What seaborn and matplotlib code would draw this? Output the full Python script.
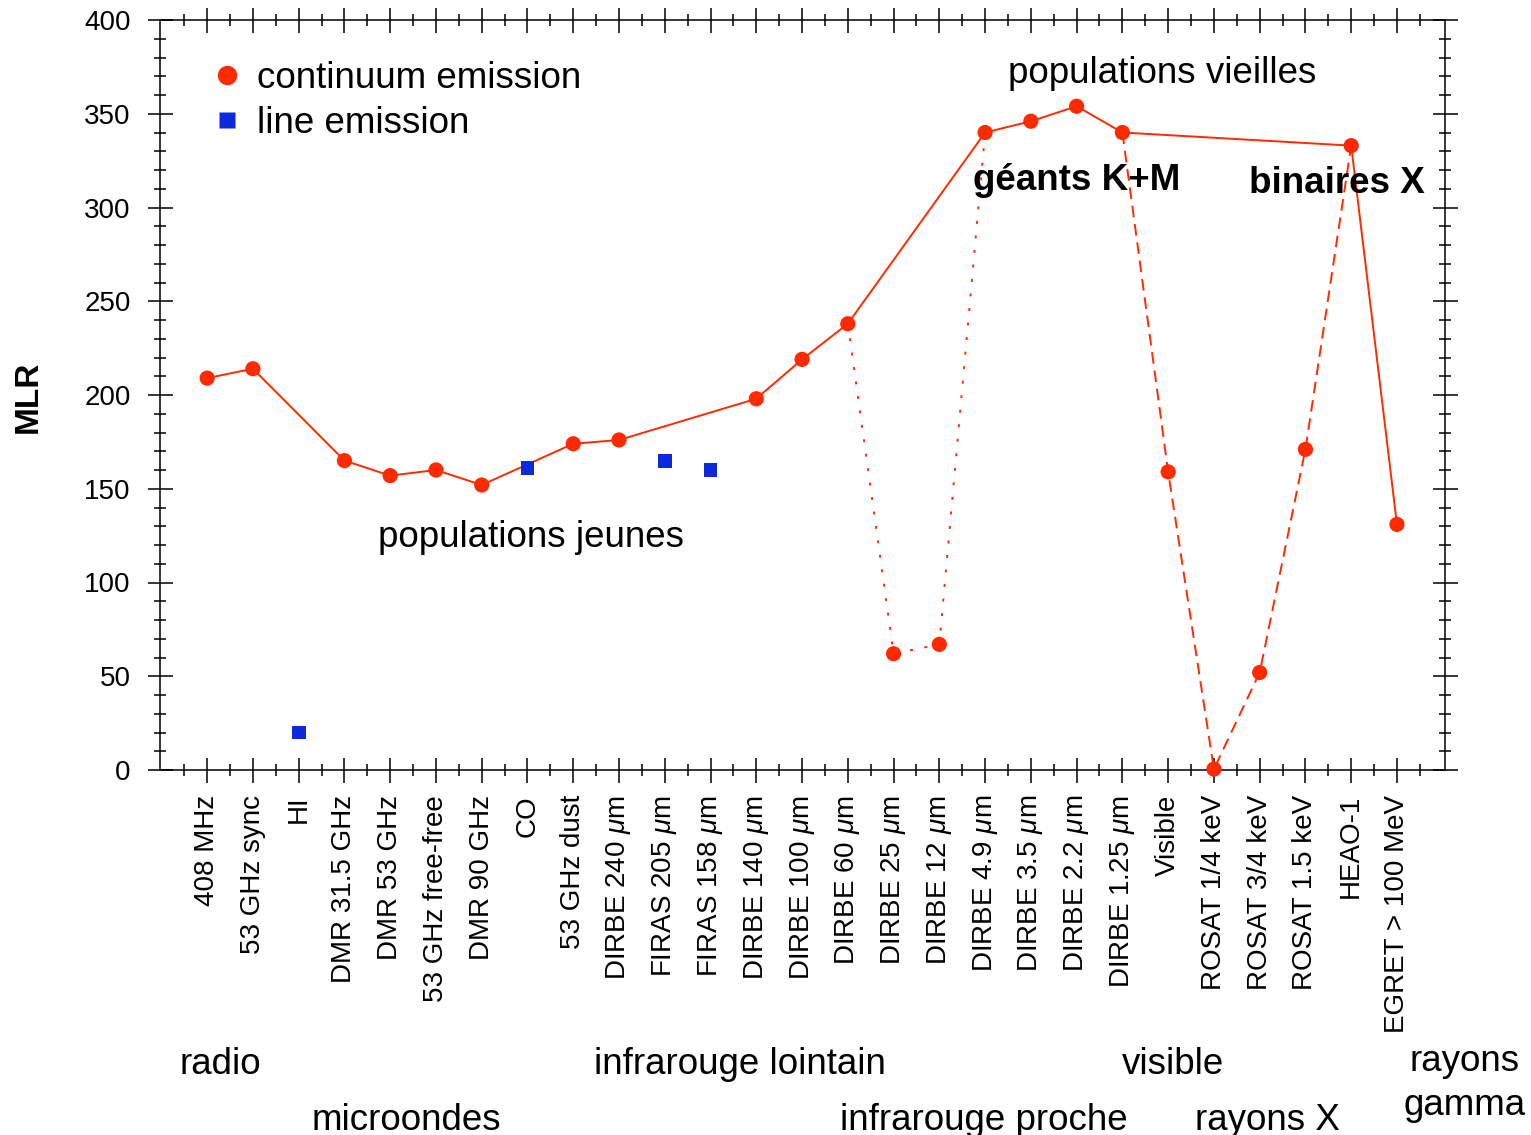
import matplotlib
matplotlib.use("Agg")
import matplotlib.pyplot as plt
import seaborn as sns
import pandas as pd
import numpy as np
from matplotlib.ticker import MultipleLocator, FixedLocator
from matplotlib.lines import Line2D

# ---------------- data ----------------
categories = ["408 MHz", "53 GHz sync", "HI", "DMR 31.5 GHz", "DMR 53 GHz",
              "53 GHz free-free", "DMR 90 GHz", "CO", "53 GHz dust",
              "DIRBE 240 $\\mu$m", "FIRAS 205 $\\mu$m", "FIRAS 158 $\\mu$m",
              "DIRBE 140 $\\mu$m", "DIRBE 100 $\\mu$m", "DIRBE 60 $\\mu$m",
              "DIRBE 25 $\\mu$m", "DIRBE 12 $\\mu$m", "DIRBE 4.9 $\\mu$m",
              "DIRBE 3.5 $\\mu$m", "DIRBE 2.2 $\\mu$m", "DIRBE 1.25 $\\mu$m",
              "Visible", "ROSAT 1/4 keV", "ROSAT 3/4 keV", "ROSAT 1.5 keV",
              "HEAO-1", "EGRET > 100 MeV"]
nan = np.nan
continuum = [209, 214, nan, 165, 157, 160, 152, nan, 174, 176, nan, nan,
             198, 219, 238, 62, 67, 340, 346, 354, 340, 159, 0.5, 52, 171,
             333, 131]
line_emission = [nan, nan, 20, nan, nan, nan, nan, 161, nan, nan, 165, 160,
                 nan, nan, nan, nan, nan, nan, nan, nan, nan, nan, nan, nan,
                 nan, nan, nan]
solid_idx = [0, 1, 3, 4, 5, 6, 8, 9, 12, 13, 14, 17, 18, 19, 20, 25, 26]
dotted_idx = [14, 15, 16, 17]
dashed_idx = [20, 21, 22, 23, 24, 25]
yticks = [0, 50, 100, 150, 200, 250, 300, 350, 400]

RED = "#ff2a00"
BLUE = "#0a2adc"

sns.set_style("ticks")
plt.rcParams['font.family'] = ['Liberation Sans', 'DejaVu Sans']
plt.rcParams['mathtext.fontset'] = 'custom'
plt.rcParams['mathtext.rm'] = 'Liberation Sans'
plt.rcParams['mathtext.it'] = 'Liberation Sans:italic'
plt.rcParams['text.color'] = 'black'
plt.rcParams['axes.labelcolor'] = 'black'
plt.rcParams['xtick.color'] = 'black'
plt.rcParams['ytick.color'] = 'black'

df = pd.DataFrame({"pos": np.arange(len(categories)),
                   "cont": continuum, "line": line_emission})

W, H = 1531, 1135
fig = plt.figure(figsize=(W / 100, H / 100), dpi=100)
ax = fig.add_axes([160 / W, 1 - 770 / H, (1445 - 160) / W, (770 - 20) / H])

# lines
sns.lineplot(data=df.iloc[solid_idx], x="pos", y="cont", sort=False,
             color=RED, linewidth=1.4, ax=ax, estimator=None)
sns.lineplot(data=df.iloc[dotted_idx], x="pos", y="cont", sort=False,
             color=RED, linewidth=1.4, linestyle=(0, (1.5, 6)), ax=ax,
             estimator=None)
sns.lineplot(data=df.iloc[dashed_idx], x="pos", y="cont", sort=False,
             color=RED, linewidth=1.4, linestyle=(0, (6, 3.5)), ax=ax,
             estimator=None)

# markers
sns.scatterplot(data=df, x="pos", y="cont", marker="o", s=120, color=RED,
                edgecolor="none", ax=ax, zorder=4, clip_on=False)
sns.scatterplot(data=df, x="pos", y="line", marker="s", s=100, color=BLUE,
                edgecolor="none", ax=ax, zorder=4, clip_on=False)

ax.set_xlim(-1.03, 27.05)
ax.set_ylim(0, 400)
ax.set_xticks(range(len(categories)))
ax.set_xticklabels(categories, rotation=90, fontsize=20)
ax.xaxis.set_minor_locator(FixedLocator(np.arange(-0.5, len(categories), 1)))
ax.set_yticks(yticks)
ax.set_yticklabels([str(v) for v in yticks], fontsize=20)
ax.yaxis.set_minor_locator(MultipleLocator(10))
ax.set_xlabel("")
ax.set_ylabel("MLR", fontsize=24, fontweight="bold")
ax.yaxis.set_label_coords((44 - 160) / 1285, 0.497)

ax.tick_params(which="major", direction="inout", length=18, width=1.1,
               top=True, right=True, color="black", labelcolor="black")
ax.tick_params(which="minor", direction="inout", length=9, width=1.1,
               top=True, right=True, color="black")
ax.tick_params(axis="x", which="major", pad=9)
ax.tick_params(axis="y", which="major", pad=12)
for sp in ax.spines.values():
    sp.set_visible(True)
    sp.set_linewidth(1.1)
    sp.set_color("black")

# legend
handles = [Line2D([], [], marker="o", ls="", color=RED, markersize=14,
                  markeredgecolor="none"),
           Line2D([], [], marker="s", ls="", color=BLUE, markersize=11.5,
                  markeredgecolor="none")]
leg = ax.legend(handles, ["continuum emission", "line emission"],
                loc="upper left", bbox_to_anchor=(213 / W, 1 - 61 / H),
                bbox_transform=fig.transFigure, frameon=False, fontsize=26.5,
                handlelength=0.75, handletextpad=0.45, borderpad=0,
                borderaxespad=0, labelspacing=0.27)

def ftext(x, y, s, **kw):
    fig.text(x / W, 1 - y / H, s, fontsize=26.5, va="baseline", **kw)

ftext(1008, 83, "populations vieilles")
ftext(378, 547, "populations jeunes")
ftext(973, 190, "géants K+M", fontweight="bold")
ftext(1249, 193, "binaires X", fontweight="bold")
ftext(180, 1074, "radio")
ftext(312, 1130, "microondes")
ftext(594, 1074, "infrarouge lointain")
ftext(840, 1130, "infrarouge proche")
ftext(1122, 1074, "visible")
ftext(1195, 1130, "rayons X")
ftext(1465, 1071, "rayons", ha="center")
ftext(1465, 1115, "gamma", ha="center")

fig.savefig("out.png", dpi=100)
